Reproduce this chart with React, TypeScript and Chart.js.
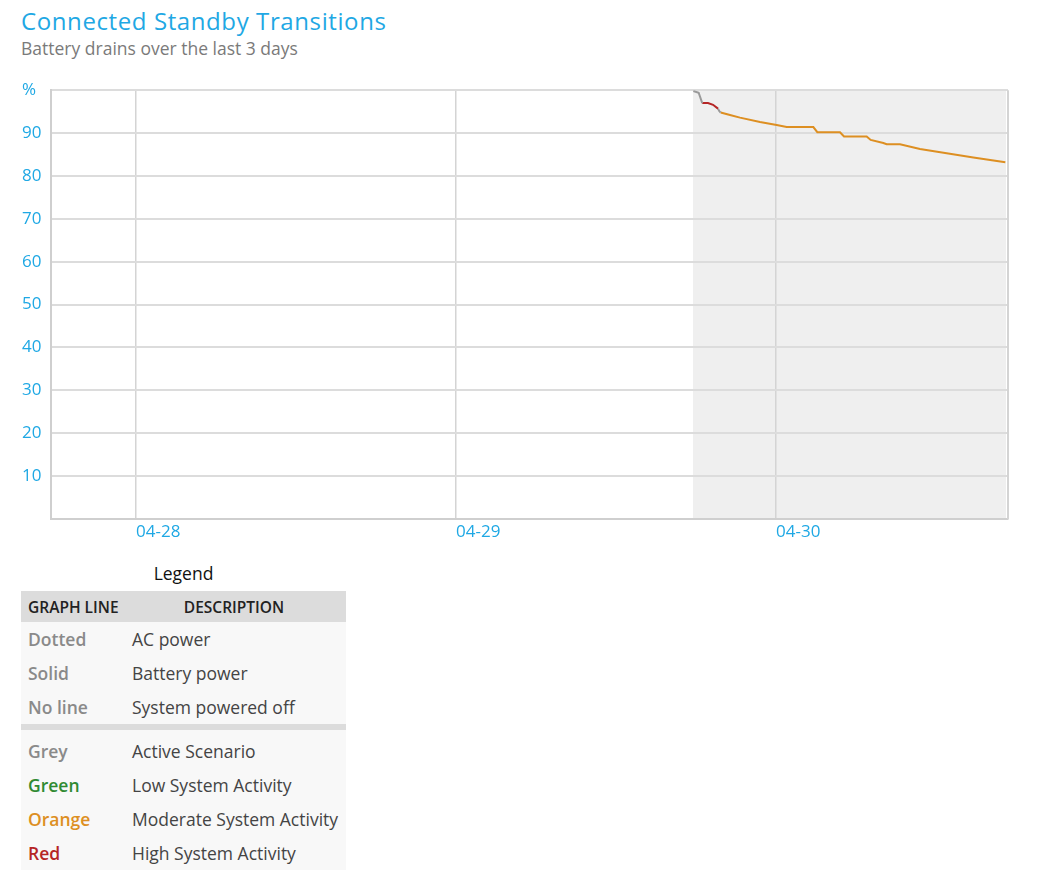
import React, { useEffect, useRef } from "react";
import { Chart, registerables } from "chart.js";

Chart.register(...registerables);

// Hours measured from 04-28 00:00
const dayTickHours = [0, 24, 48];
const dayLabels = ["04-28", "04-29", "04-30"];
const axisMinHours = -6.375;
const axisMaxHours = 65.4;
const yTicks = [0, 10, 20, 30, 40, 50, 60, 70, 80, 90, 100];

// Connected standby session (shaded)
const sessionStartHours = 41.775;
const sessionEndHours = 65.25;

// Battery percentage by activity level
const activeHoursA = [41.8, 42.2, 42.47];
const activeValuesA = [99.8, 99.4, 97.0];
const highHours = [42.47, 42.9, 43.28, 43.65];
const highValues = [97.0, 97.0, 96.6, 95.7];
const activeHoursB = [43.65, 43.75, 43.85];
const activeValuesB = [95.7, 95.1, 94.8];
const moderateHours = [43.85, 44.55, 45.3, 46.8, 48.05, 48.8, 50.8, 51.1, 52.8, 53.1, 54.8, 55.1, 56.05, 56.3, 57.3, 58.8, 60.8, 62.8, 65.2];
const moderateValues = [94.8, 94.2, 93.6, 92.6, 91.9, 91.4, 91.4, 90.2, 90.2, 89.2, 89.2, 88.4, 87.7, 87.4, 87.4, 86.3, 85.3, 84.3, 83.2];

const FONT = '"Segoe UI", "Open Sans", "Noto Sans", sans-serif';
const CYAN = "#1fa8e4";
const GREY_LINE = "#9a9a9a";
const RED = "#b52525";
const ORANGE = "#dd8f22";
const GREEN = "#2f8a32";
const KEY_GREY = "#8a8a8a";

const toPoints = (xs: number[], ys: number[]) => xs.map((x, i) => ({ x, y: ys[i] }));

// Shaded standby session behind the grid, plus the right-hand frame line
const sessionShade = {
  id: "sessionShade",
  beforeDraw(chart: any) {
    const { ctx, chartArea, scales } = chart;
    const x0 = scales.x.getPixelForValue(sessionStartHours);
    const x1 = scales.x.getPixelForValue(sessionEndHours);
    ctx.save();
    ctx.fillStyle = "#efefef";
    ctx.fillRect(x0, chartArea.top, x1 - x0, chartArea.bottom - chartArea.top);
    ctx.restore();
  },
  afterDraw(chart: any) {
    const { ctx, chartArea } = chart;
    ctx.save();
    ctx.strokeStyle = "#d4d4d4";
    ctx.lineWidth = 2;
    ctx.beginPath();
    ctx.moveTo(chartArea.right, chartArea.top);
    ctx.lineTo(chartArea.right, chartArea.bottom);
    ctx.stroke();
    ctx.restore();
  },
};

function BatteryChart() {
  const ref = useRef<HTMLCanvasElement | null>(null);
  useEffect(() => {
    if (!ref.current) return;
    const line = (data: { x: number; y: number }[], color: string) => ({
      data,
      borderColor: color,
      backgroundColor: color,
      borderWidth: 2,
      pointRadius: 0,
      tension: 0,
      fill: false,
    });
    const chart = new Chart(ref.current, {
      type: "line",
      data: {
        datasets: [
          line(toPoints(activeHoursA, activeValuesA), GREY_LINE),
          line(toPoints(highHours, highValues), RED),
          line(toPoints(activeHoursB, activeValuesB), GREY_LINE),
          line(toPoints(moderateHours, moderateValues), ORANGE),
        ],
      },
      options: {
        animation: false,
        responsive: false,
        maintainAspectRatio: false,
        layout: { padding: { top: 10, right: 22, left: 22, bottom: 0 } },
        plugins: { legend: { display: false }, tooltip: { enabled: false } },
        scales: {
          x: {
            type: "linear",
            min: axisMinHours,
            max: axisMaxHours,
            afterBuildTicks: (s: any) => {
              s.ticks = dayTickHours.map((v) => ({ value: v }));
            },
            afterFit: (s: any) => {
              s.height = 31;
            },
            ticks: {
              align: "start",
              padding: 3,
              color: CYAN,
              font: { family: FONT, size: 17 },
              callback: (v: any) => {
                const i = dayTickHours.indexOf(Number(v));
                return i >= 0 ? dayLabels[i] : "";
              },
            },
            grid: { color: "#d4d4d4", lineWidth: 1.5, drawTicks: false },
            border: { color: "#cfcfcf", width: 2 },
          },
          y: {
            min: 0,
            max: 100,
            afterBuildTicks: (s: any) => {
              s.ticks = yTicks.map((v) => ({ value: v }));
            },
            afterFit: (s: any) => {
              s.width = 29;
            },
            ticks: {
              crossAlign: "far",
              color: CYAN,
              font: { family: FONT, size: 17 },
              callback: (v: any) => (v === 0 ? "" : v === 100 ? "%" : String(v)),
            },
            grid: { color: "#dcdcdc", lineWidth: 2, drawTicks: false },
            border: { color: "#cfcfcf", width: 2 },
          },
        },
      },
      plugins: [sessionShade],
    } as any);
    return () => chart.destroy();
  }, []);
  return <canvas ref={ref} width={1030} height={473} style={{ position: "absolute", left: 0, top: 77 }} />;
}

const legendTop = [
  { key: "Dotted", desc: "AC power", color: KEY_GREY },
  { key: "Solid", desc: "Battery power", color: KEY_GREY },
  { key: "No line", desc: "System powered off", color: KEY_GREY },
];
const legendBottom = [
  { key: "Grey", desc: "Active Scenario", color: KEY_GREY },
  { key: "Green", desc: "Low System Activity", color: GREEN },
  { key: "Orange", desc: "Moderate System Activity", color: ORANGE },
  { key: "Red", desc: "High System Activity", color: RED },
];

function LegendRow({ r }: { r: { key: string; desc: string; color: string } }) {
  return (
    <div style={{ display: "flex", height: 34, alignItems: "center", background: "#f8f8f8" }}>
      <div style={{ width: 104, paddingLeft: 7, color: r.color, fontWeight: 600 }}>{r.key}</div>
      <div style={{ color: "#444", whiteSpace: "nowrap" }}>{r.desc}</div>
    </div>
  );
}

export default function App() {
  return (
    <div style={{ position: "absolute", left: 0, top: 0, width: 1044, height: 870, background: "#fff", fontFamily: FONT }}>
      <div style={{ position: "absolute", left: 21, top: 4, fontSize: 24, color: CYAN, letterSpacing: 0.6, whiteSpace: "nowrap" }}>
        Connected Standby Transitions
      </div>
      <div style={{ position: "absolute", left: 21, top: 36, fontSize: 17.5, color: "#7a7a7a", whiteSpace: "nowrap" }}>
        Battery drains over the last 3 days
      </div>
      <BatteryChart />
      <div style={{ position: "absolute", left: 21, top: 561, width: 325, textAlign: "center", fontSize: 17.5, color: "#111" }}>
        Legend
      </div>
      <div style={{ position: "absolute", left: 21, top: 591, width: 325, fontSize: 17.5 }}>
        <div style={{ display: "flex", height: 31, alignItems: "center", background: "#dcdcdc", fontSize: 15.5, fontWeight: 600, color: "#222" }}>
          <div style={{ width: 104, paddingLeft: 7, whiteSpace: "nowrap" }}>GRAPH LINE</div>
          <div style={{ flex: 1, textAlign: "center", paddingRight: 10 }}>DESCRIPTION</div>
        </div>
        {legendTop.map((r) => (
          <LegendRow key={r.key} r={r} />
        ))}
        <div style={{ height: 6, background: "#dcdcdc" }} />
        <div style={{ height: 4, background: "#f8f8f8" }} />
        {legendBottom.map((r) => (
          <LegendRow key={r.key} r={r} />
        ))}
      </div>
    </div>
  );
}
